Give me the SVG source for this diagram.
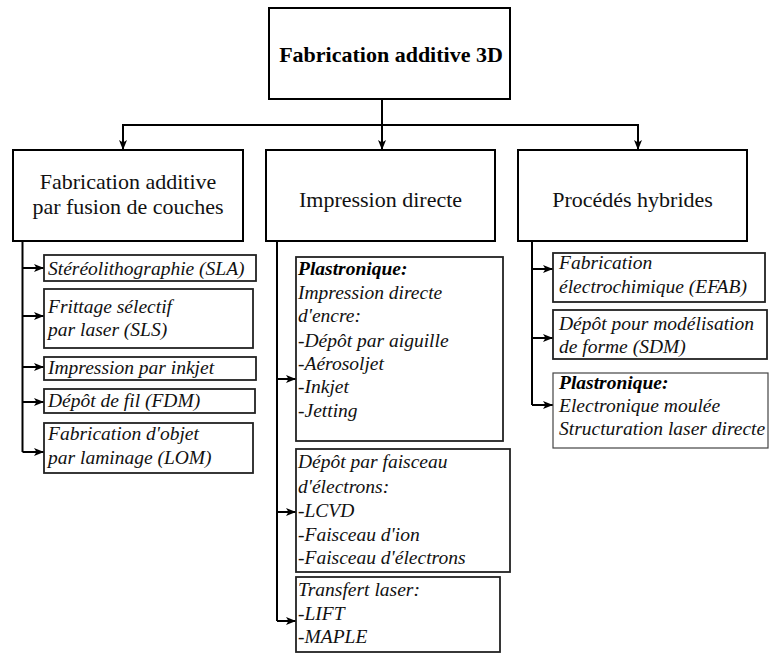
<svg xmlns="http://www.w3.org/2000/svg" width="771" height="662" viewBox="0 0 771 662">
<defs>
<marker id="ah" viewBox="0 0 10 8" refX="10" refY="4" markerWidth="10" markerHeight="8" markerUnits="userSpaceOnUse" orient="auto">
<path d="M0,0 L10,4 L0,8 L2.5,4 Z" fill="#000"/>
</marker>
</defs>
<rect width="771" height="662" fill="#fff"/>
<g id="connectors" fill="none" stroke="#000" stroke-width="2">
<path d="M382,99 V150" marker-end="url(#ah)"/>
<path d="M123,150 V125 H638 V150" marker-end="url(#ah)"/>
<path d="M123,125 V150" marker-end="url(#ah)"/>
<path d="M22.5,241 V452"/>
<path d="M22.5,268 H44" marker-end="url(#ah)"/>
<path d="M22.5,316 H44" marker-end="url(#ah)"/>
<path d="M22.5,367 H44" marker-end="url(#ah)"/>
<path d="M22.5,402 H44" marker-end="url(#ah)"/>
<path d="M22.5,452 H44" marker-end="url(#ah)"/>
<path d="M277,241 V621"/>
<path d="M277,379 H296" marker-end="url(#ah)"/>
<path d="M277,512 H296" marker-end="url(#ah)"/>
<path d="M277,621 H296" marker-end="url(#ah)"/>
<path d="M532,241 V405"/>
<path d="M532,269 H553" marker-end="url(#ah)"/>
<path d="M532,338 H553" marker-end="url(#ah)"/>
<path d="M532,405 H553" marker-end="url(#ah)"/>
</g>
<g font-family="Times New Roman, Liberation Serif, serif" font-size="22" fill="#111">
<g id="root">
<rect x="269" y="8" width="241" height="91" fill="#fff" stroke="#000" stroke-width="2"/>
<text x="391" y="62" text-anchor="middle" font-weight="bold" fill="#000">Fabrication additive 3D</text>
</g>
<g id="fusion">
<rect x="13" y="150" width="230" height="91" fill="#fff" stroke="#000" stroke-width="2"/>
<text x="128" y="189" text-anchor="middle">Fabrication additive</text>
<text x="128" y="214" text-anchor="middle">par fusion de couches</text>
</g>
<g id="directe">
<rect x="266" y="150" width="229" height="91" fill="#fff" stroke="#000" stroke-width="2"/>
<text x="380.5" y="207" text-anchor="middle">Impression directe</text>
</g>
<g id="hybrides">
<rect x="518" y="150" width="229" height="91" fill="#fff" stroke="#000" stroke-width="2"/>
<text x="632.5" y="207" text-anchor="middle">Procédés hybrides</text>
</g>
</g>
<g font-family="Times New Roman, Liberation Serif, serif" font-size="19.5" font-style="italic" fill="#111">
<g id="sla">
<rect x="44" y="255" width="212" height="26" fill="#fff" stroke="#222" stroke-width="1.8"/>
<text x="48" y="275">Stéréolithographie (SLA)</text>
</g>
<g id="sls">
<rect x="44" y="289" width="209" height="59" fill="#fff" stroke="#222" stroke-width="1.8"/>
<text x="48" y="313">Frittage sélectif</text>
<text x="48" y="336">par laser (SLS)</text>
</g>
<g id="inkjet">
<rect x="44" y="357" width="212" height="23" fill="#fff" stroke="#222" stroke-width="1.8"/>
<text x="48" y="374">Impression par inkjet</text>
</g>
<g id="fdm">
<rect x="44" y="389" width="211" height="24" fill="#fff" stroke="#222" stroke-width="1.8"/>
<text x="48" y="407">Dépôt de fil (FDM)</text>
</g>
<g id="lom">
<rect x="44" y="423" width="209" height="50" fill="#fff" stroke="#222" stroke-width="1.8"/>
<text x="48" y="440">Fabrication d'objet</text>
<text x="48" y="464">par laminage (LOM)</text>
</g>
<g id="plastro1">
<rect x="296" y="257" width="207" height="184" fill="#fff" stroke="#222" stroke-width="1.8"/>
<text x="298" y="275" font-weight="bold" fill="#000">Plastronique:</text>
<text x="298" y="299">Impression directe</text>
<text x="298" y="322">d'encre:</text>
<text x="298" y="347">-Dépôt par aiguille</text>
<text x="298" y="370">-Aérosoljet</text>
<text x="298" y="393">-Inkjet</text>
<text x="298" y="417">-Jetting</text>
</g>
<g id="faisceau">
<rect x="296" y="449" width="214" height="123" fill="#fff" stroke="#222" stroke-width="1.8"/>
<text x="298" y="468">Dépôt par faisceau</text>
<text x="298" y="493">d'électrons:</text>
<text x="298" y="517">-LCVD</text>
<text x="298" y="541">-Faisceau d'ion</text>
<text x="298" y="564">-Faisceau d'électrons</text>
</g>
<g id="transfert">
<rect x="296" y="577" width="204" height="75" fill="#fff" stroke="#222" stroke-width="1.8"/>
<text x="298" y="596">Transfert laser:</text>
<text x="298" y="620">-LIFT</text>
<text x="298" y="643">-MAPLE</text>
</g>
<g id="efab">
<rect x="553" y="253" width="212" height="49" fill="#fff" stroke="#222" stroke-width="1.8"/>
<text x="559" y="269">Fabrication</text>
<text x="559" y="293">électrochimique (EFAB)</text>
</g>
<g id="sdm">
<rect x="553" y="310" width="214" height="49" fill="#fff" stroke="#222" stroke-width="1.8"/>
<text x="559" y="330">Dépôt pour modélisation</text>
<text x="559" y="353">de forme (SDM)</text>
</g>
<g id="plastro2">
<rect x="553" y="373" width="215" height="75" fill="#fff" stroke="#444" stroke-width="1.2"/>
<text x="559" y="389" font-weight="bold" fill="#000">Plastronique:</text>
<text x="559" y="412">Electronique moulée</text>
<text x="559" y="435">Structuration laser directe</text>
</g>
</g>
</svg>
